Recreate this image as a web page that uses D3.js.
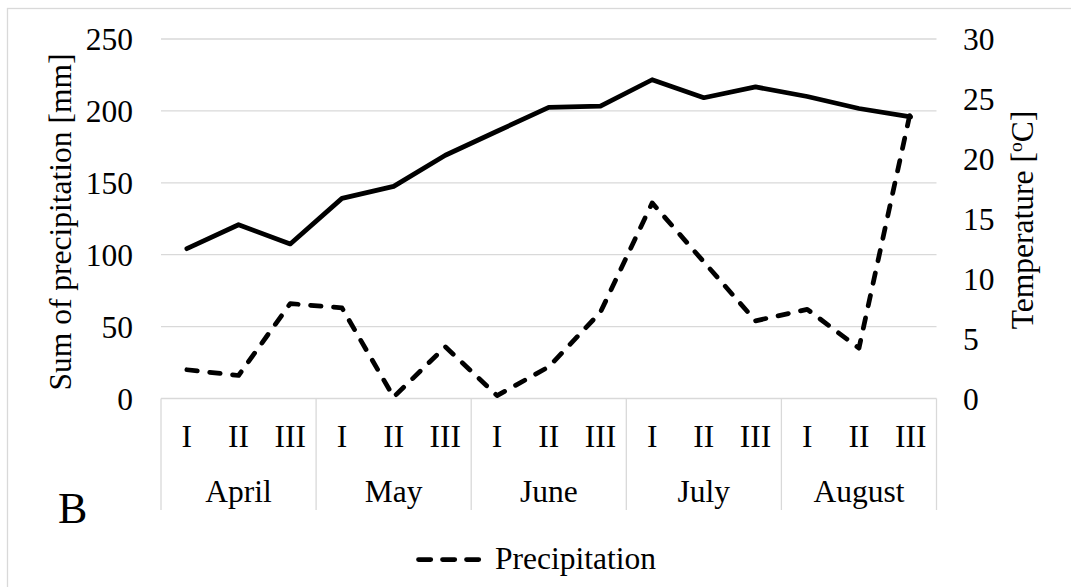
<!DOCTYPE html>
<html>
<head>
<meta charset="utf-8">
<script src="https://cdn.jsdelivr.net/npm/d3@7"></script>
<style>
  html, body { margin: 0; padding: 0; background: #fff; }
  svg { display: block; }
  text { font-family: "Liberation Serif", "Times New Roman", serif; fill: #000; }
</style>
</head>
<body>
<svg id="chart" width="1071" height="587"></svg>
<script>
// Ten-day periods (decades) within each month
const months = ["April", "May", "June", "July", "August"];
const decades = ["I", "II", "III"];

// Sum of precipitation per decade [mm]
const precipitation = [20, 16, 66, 63, 1, 36, 2, 22, 60, 136, 95, 54, 62, 35, 200];

// Mean air temperature per decade [°C]
const temperature = [12.5, 14.5, 12.9, 16.7, 17.7, 20.3, 22.3, 24.3, 24.4, 26.6, 25.1, 26.0, 25.2, 24.2, 23.5];

// Axis ticks
const precipTicks = [0, 50, 100, 150, 200, 250];
const tempTicks = [0, 5, 10, 15, 20, 25, 30];

const svg = d3.select("#chart");
const W = 1071, H = 587;
const plot = { left: 161, right: 936.5, top: 39, bottom: 398.5 };
const FS = 31.5;
const grid = "#d9d9d9";

svg.append("rect").attr("width", W).attr("height", H).attr("fill", "#fff");
// chart frame
svg.append("rect")
  .attr("x", 7.5).attr("y", 8.5).attr("width", W + 20).attr("height", H + 20)
  .attr("fill", "none").attr("stroke", grid).attr("stroke-width", 1.3);

const periods = d3.range(months.length * decades.length);
const x = d3.scaleBand().domain(periods).range([plot.left, plot.right]).padding(0);
const cx = i => x(i) + x.bandwidth() / 2;

const yP = d3.scaleLinear().domain([0, 250]).range([plot.bottom, plot.top]);
const yT = d3.scaleLinear().domain([0, 30]).range([plot.bottom, plot.top]);

// horizontal gridlines (the 0 line doubles as the category axis)
svg.append("g").selectAll("line").data(precipTicks).join("line")
  .attr("x1", plot.left).attr("x2", plot.right)
  .attr("y1", d => yP(d)).attr("y2", d => yP(d))
  .attr("stroke", grid).attr("stroke-width", 1.3);

// left axis labels
const leftAxis = d3.axisLeft(yP).tickValues(precipTicks).tickSize(0).tickPadding(0);
const gl = svg.append("g").attr("transform", "translate(133,0)").call(leftAxis);
gl.select(".domain").remove();
gl.selectAll("text").attr("font-size", FS).attr("font-family", null).attr("dy", "0.34em");

// right axis labels
const rightAxis = d3.axisRight(yT).tickValues(tempTicks).tickSize(0).tickPadding(0);
const gr = svg.append("g").attr("transform", "translate(963,0)").call(rightAxis);
gr.select(".domain").remove();
gr.selectAll("text").attr("font-size", FS).attr("font-family", null).attr("dy", "0.34em");

// month separators of the two-level category axis
const sepY2 = 510;
svg.append("g").selectAll("line").data(d3.range(months.length + 1)).join("line")
  .attr("x1", k => plot.left + k * 3 * x.bandwidth())
  .attr("x2", k => plot.left + k * 3 * x.bandwidth())
  .attr("y1", plot.bottom).attr("y2", sepY2)
  .attr("stroke", grid).attr("stroke-width", 1.3);

// decade labels
svg.append("g").selectAll("text").data(periods).join("text")
  .attr("x", i => cx(i)).attr("y", 447)
  .attr("text-anchor", "middle").attr("font-size", FS)
  .text(i => decades[i % 3]);

// month labels
svg.append("g").selectAll("text").data(months).join("text")
  .attr("x", (m, k) => plot.left + (k * 3 + 1.5) * x.bandwidth()).attr("y", 502)
  .attr("text-anchor", "middle").attr("font-size", FS)
  .text(m => m);

// axis titles
svg.append("text")
  .attr("transform", "translate(71,222) rotate(-90)")
  .attr("text-anchor", "middle").attr("font-size", FS)
  .text("Sum of precipitation [mm]");

const tt = svg.append("text")
  .attr("transform", "translate(1033,220) rotate(-90)")
  .attr("text-anchor", "middle").attr("font-size", FS);
tt.append("tspan").text("Temperature [");
tt.append("tspan").attr("font-size", FS * 0.62).attr("dy", -11).text("o");
tt.append("tspan").attr("dy", 11).text("C]");

// panel letter
svg.append("text").attr("x", 58).attr("y", 523).attr("font-size", 44).text("B");

// temperature line (right axis)
const lineT = d3.line().x((d, i) => cx(i)).y(d => yT(d));
svg.append("path").datum(temperature)
  .attr("d", lineT).attr("fill", "none").attr("stroke", "#000")
  .attr("stroke-width", 4.75).attr("stroke-linejoin", "round").attr("stroke-linecap", "round");

// precipitation line (left axis)
const dash = "10.5,12.5";
const lineP = d3.line().x((d, i) => cx(i)).y(d => yP(d));
svg.append("path").datum(precipitation)
  .attr("d", lineP).attr("fill", "none").attr("stroke", "#000")
  .attr("stroke-width", 4.75).attr("stroke-dasharray", dash)
  .attr("stroke-linejoin", "round").attr("stroke-linecap", "round");

// legend
const lg = svg.append("g");
lg.append("line").attr("x1", 418.5).attr("x2", 478.75).attr("y1", 559.5).attr("y2", 559.5)
  .attr("stroke", "#000").attr("stroke-width", 4.75).attr("stroke-dasharray", "12.25,11.75")
  .attr("stroke-linecap", "round");
lg.append("text").attr("x", 495).attr("y", 569).attr("font-size", FS).text("Precipitation");
</script>
</body>
</html>
